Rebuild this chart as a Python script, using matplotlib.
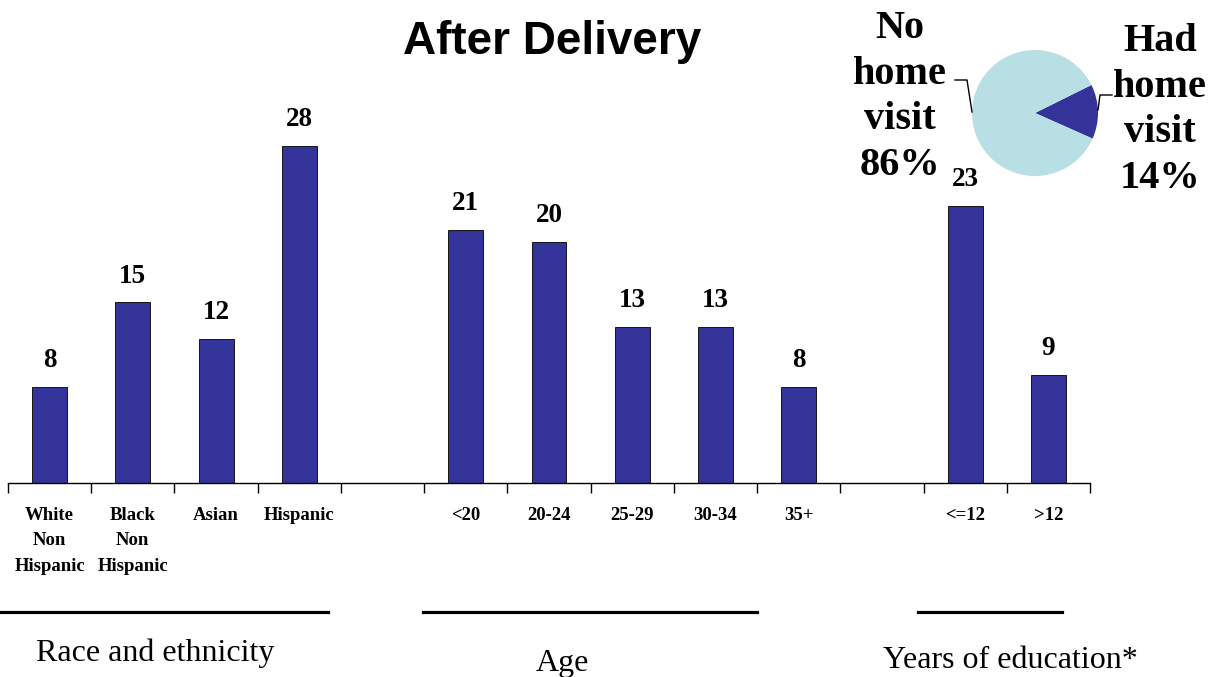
import matplotlib.pyplot as plt
from matplotlib.lines import Line2D

W, H = 1226, 677

race_labels = ["White\nNon\nHispanic", "Black\nNon\nHispanic", "Asian", "Hispanic"]
race_values = [8, 15, 12, 28]
age_labels = ["<20", "20-24", "25-29", "30-34", "35+"]
age_values = [21, 20, 13, 13, 8]
edu_labels = ["<=12", ">12"]
edu_values = [23, 9]

pie_labels = ["Had\nhome\nvisit\n14%", "No\nhome\nvisit\n86%"]
pie_values = [14, 86]

group_titles = ["Race and ethnicity", "Age", "Years of education*"]

bar_color = "#333399"
pie_colors = ["#333399", "#B8DFE3"]
serif = ["Liberation Serif", "DejaVu Serif"]
sans = ["Liberation Sans", "DejaVu Sans"]


def fx(x):
    return x / W


def fy(y):
    return 1 - y / H


# slots: 4 race, gap, 5 age, gap, 2 education
labels = race_labels + [""] + age_labels + [""] + edu_labels
values = race_values + [None] + age_values + [None] + edu_values

fig = plt.figure(figsize=(W / 100, H / 100), dpi=100)

# bar area: baseline at y=483 px, x from 8 to 1090 px
top_px = 100
ax = fig.add_axes([fx(8), fy(483), fx(1090 - 8), (483 - top_px) / H])
pxu = (483 - 146) / 28.0
ax.set_ylim(0, (483 - top_px) / pxu)
ax.set_xlim(-0.5, len(labels) - 0.5)

for i, v in enumerate(values):
    if v is None:
        continue
    ax.bar(i, v, width=0.42, color=bar_color, edgecolor="black", linewidth=0.6)
    ax.annotate(str(v), (i, v), xytext=(0, 10), textcoords="offset points",
                ha="center", va="bottom", fontsize=19.5, fontweight="bold",
                family=serif)

ax.set_xticks(range(len(labels)))
ax.set_xticklabels(labels, fontsize=13.5, fontweight="bold", family=serif,
                   linespacing=1.65, va="top")
ax.tick_params(axis="x", which="major", length=0, pad=17)
ax.set_xticks([i - 0.5 for i in range(len(labels) + 1)], minor=True)
ax.tick_params(axis="x", which="minor", length=7, width=1, direction="out")
ax.set_yticks([])
for s in ["left", "right", "top"]:
    ax.spines[s].set_visible(False)
ax.spines["bottom"].set_linewidth(1)

# title
fig.text(fx(552), fy(42), "After Delivery", ha="center", va="center",
         fontsize=33, fontweight="bold", family=sans)

# group underlines and titles
for x0, x1 in [(0, 328), (423, 757), (918, 1062)]:
    fig.add_artist(Line2D([fx(x0), fx(x1)], [fy(612), fy(612)],
                          color="black", linewidth=2.3))
for t, x, y in zip(group_titles, [155, 562, 1010], [653, 663, 660]):
    fig.text(fx(x), fy(y), t, ha="center", va="center", fontsize=23,
             family=serif)

# page number, mostly cut off as in the slide
fig.text(fx(1212), fy(690), "3", ha="left", va="center", fontsize=21.5,
         family=serif)

# pie
cx, cy, r = 1035, 113, 63
pax = fig.add_axes([fx(cx - r), fy(cy + r), fx(2 * r), 2 * r / H])
pax.pie(pie_values, colors=pie_colors, startangle=-24, counterclock=True,
        radius=1, wedgeprops=dict(linewidth=0))
pax.set_xlim(-1, 1)
pax.set_ylim(-1, 1)
pax.set_aspect("equal")
pax.axis("off")

fig.text(fx(1160), fy(110), pie_labels[0], ha="center", va="center",
         fontsize=29, fontweight="bold", family=serif, linespacing=1.3)
fig.text(fx(900), fy(97), pie_labels[1], ha="center", va="center",
         fontsize=29, fontweight="bold", family=serif, linespacing=1.3)

# leader lines
fig.add_artist(Line2D([fx(955), fx(967), fx(972)], [fy(80), fy(80), fy(112)],
                      color="black", linewidth=1))
fig.add_artist(Line2D([fx(1098), fx(1100), fx(1112)], [fy(110), fy(95), fy(95)],
                      color="black", linewidth=1))

fig.savefig("out.png", dpi=100)
